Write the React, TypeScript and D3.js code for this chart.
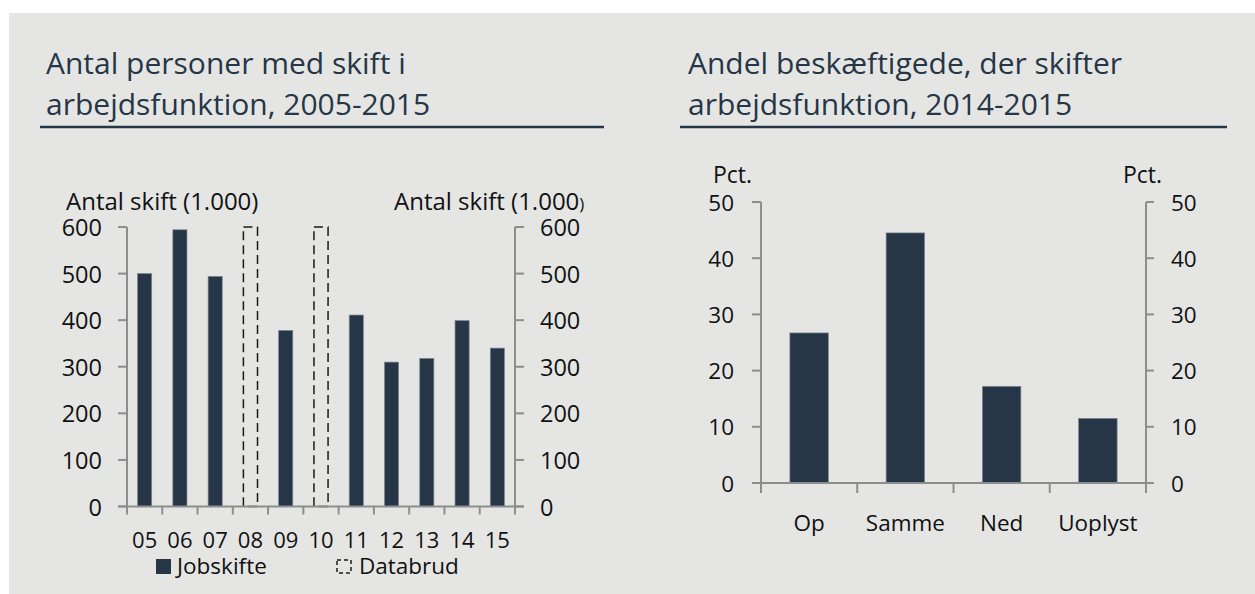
import React from "react";
import * as d3 from "d3";

// left chart: number of job-function changes (1.000)
const years = ["05", "06", "07", "08", "09", "10", "11", "12", "13", "14", "15"];
const jobskifte = [500, 594, 494, null, 378, null, 411, 310, 318, 399, 340];
const databrud = [null, null, null, 600, null, 600, null, null, null, null, null];
const leftTicks = [0, 100, 200, 300, 400, 500, 600];

// right chart: share of employed changing function, 2014-2015
const groups = ["Op", "Samme", "Ned", "Uoplyst"];
const andel = [26.7, 44.5, 17.2, 11.5];
const rightTicks = [0, 10, 20, 30, 40, 50];

const FONT = "'Open Sans', sans-serif";
const NAVY = "#263646";
const AXIS = "#8b8d8f";
const BG = "#e5e6e4";

function App() {
  // left chart scales
  const x1 = d3.scaleBand().domain(years).range([127, 515]).paddingInner(0.6).paddingOuter(0.3);
  const y1 = d3.scaleLinear().domain([0, 600]).range([506.5, 227]);
  const bounds1 = d3.range(years.length + 1).map(i => x1.range()[0] + i * x1.step());

  // right chart scales
  const x2 = d3.scaleBand().domain(groups).range([761, 1146]).paddingInner(0.6).paddingOuter(0.3);
  const y2 = d3.scaleLinear().domain([0, 50]).range([483, 202]);
  const bounds2 = d3.range(groups.length + 1).map(i => x2.range()[0] + i * x2.step());

  const titleStyle = { fontFamily: FONT, fontSize: 30, fill: NAVY };

  return (
    <svg width={1255} height={594} style={{ position: "absolute", left: 0, top: 0 }}>
      <rect x={0} y={0} width={1255} height={594} fill="#ffffff" />
      <rect x={9} y={13} width={1246} height={581} fill={BG} />

      {/* titles */}
      <text x={46} y={74} {...titleStyle}>Antal personer med skift i</text>
      <text x={46} y={115} {...titleStyle}>arbejdsfunktion, 2005-2015</text>
      <line x1={40} x2={604} y1={127} y2={127} stroke={NAVY} strokeWidth={2.5} />

      <text x={688} y={74} {...titleStyle}>Andel beskæftigede, der skifter</text>
      <text x={688} y={115} {...titleStyle}>arbejdsfunktion, 2014-2015</text>
      <line x1={680} x2={1227} y1={127} y2={127} stroke={NAVY} strokeWidth={2.5} />

      {/* ---- left chart ---- */}
      <g fontFamily={FONT} fill="#111">
        <text x={66} y={210} fontSize={24}>Antal skift (1.000)</text>
        <text x={394} y={210} fontSize={24}>
          Antal skift (1.000<tspan fontSize={17}>)</tspan>
        </text>

        {jobskifte.map((v, i) =>
          v == null ? null : (
            <rect
              key={"b" + i}
              x={x1(years[i])}
              y={y1(v)}
              width={x1.bandwidth()}
              height={y1(0) - y1(v)}
              fill={NAVY}
              stroke="#7c8690"
              strokeWidth={0.7}
            />
          )
        )}
        {databrud.map((v, i) =>
          v == null ? null : (
            <rect
              key={"d" + i}
              x={x1(years[i])}
              y={y1(v)}
              width={x1.bandwidth()}
              height={y1(0) - y1(v)}
              fill="none"
              stroke="#1a1a1a"
              strokeWidth={1.5}
              strokeDasharray="9,5"
            />
          )
        )}

        {/* axes */}
        <line x1={x1.range()[0]} x2={x1.range()[0]} y1={y1(600)} y2={y1(0)} stroke={AXIS} strokeWidth={2} />
        <line x1={x1.range()[1]} x2={x1.range()[1]} y1={y1(600)} y2={y1(0)} stroke={AXIS} strokeWidth={2} />
        {leftTicks.map(t => (
          <g key={"lt" + t}>
            <line x1={118} x2={127} y1={y1(t)} y2={y1(t)} stroke={AXIS} strokeWidth={2} />
            <line x1={515} x2={524} y1={y1(t)} y2={y1(t)} stroke={AXIS} strokeWidth={2} />
            <text x={102} y={y1(t)} fontSize={23.5} textAnchor="end" dominantBaseline="central">{t}</text>
            <text x={540} y={y1(t)} fontSize={23.5} dominantBaseline="central">{t}</text>
          </g>
        ))}
        <line x1={118} x2={524} y1={y1(0)} y2={y1(0)} stroke={AXIS} strokeWidth={2} />
        {bounds1.map((b, i) => (
          <line key={"xb" + i} x1={b} x2={b} y1={y1(0)} y2={y1(0) + 8} stroke={AXIS} strokeWidth={2} />
        ))}
        {years.map(c => (
          <text key={"xl" + c} x={(x1(c) as number) + x1.bandwidth() / 2} y={548} fontSize={22} textAnchor="middle">
            {c}
          </text>
        ))}

        {/* legend */}
        <rect x={156} y={559} width={15} height={15} fill={NAVY} />
        <text x={177} y={574} fontSize={22.5}>Jobskifte</text>
        <rect x={337} y={560} width={14} height={13} fill="none" stroke="#1a1a1a" strokeWidth={1.5} strokeDasharray="4,3" />
        <text x={359} y={574} fontSize={22.5}>Databrud</text>
      </g>

      {/* ---- right chart ---- */}
      <g fontFamily={FONT} fill="#111">
        <text x={713} y={183} fontSize={23}>Pct.</text>
        <text x={1123} y={183} fontSize={23}>Pct.</text>

        {andel.map((v, i) => (
          <rect
            key={"r" + i}
            x={x2(groups[i])}
            y={y2(v)}
            width={x2.bandwidth()}
            height={y2(0) - y2(v)}
            fill={NAVY}
            stroke="#7c8690"
            strokeWidth={0.7}
          />
        ))}

        <line x1={x2.range()[0]} x2={x2.range()[0]} y1={y2(50)} y2={y2(0)} stroke={AXIS} strokeWidth={2} />
        <line x1={x2.range()[1]} x2={x2.range()[1]} y1={y2(50)} y2={y2(0)} stroke={AXIS} strokeWidth={2} />
        {rightTicks.map(t => (
          <g key={"rt" + t}>
            <line x1={752} x2={761} y1={y2(t)} y2={y2(t)} stroke={AXIS} strokeWidth={2} />
            <line x1={1146} x2={1154} y1={y2(t)} y2={y2(t)} stroke={AXIS} strokeWidth={2} />
            <text x={734} y={y2(t)} fontSize={22.5} textAnchor="end" dominantBaseline="central">{t}</text>
            <text x={1171} y={y2(t)} fontSize={22.5} dominantBaseline="central">{t}</text>
          </g>
        ))}
        <line x1={752} x2={1154} y1={y2(0)} y2={y2(0)} stroke={AXIS} strokeWidth={2} />
        {bounds2.map((b, i) => (
          <line key={"xb2" + i} x1={b} x2={b} y1={y2(0)} y2={y2(0) + 10} stroke={AXIS} strokeWidth={2} />
        ))}
        {groups.map(c => (
          <text key={"gl" + c} x={(x2(c) as number) + x2.bandwidth() / 2} y={531} fontSize={22.5} textAnchor="middle">
            {c}
          </text>
        ))}
      </g>
    </svg>
  );
}

export default App;
